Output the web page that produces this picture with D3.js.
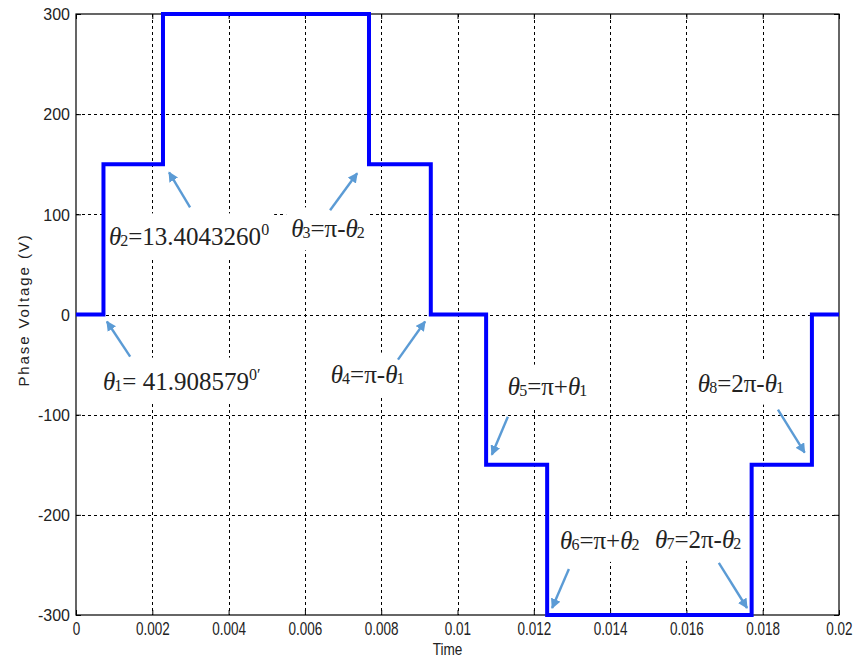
<!DOCTYPE html>
<html>
<head>
<meta charset="utf-8">
<script src="https://cdn.jsdelivr.net/npm/d3@7"></script>
<style>
  body { margin: 0; background: #fff; }
  svg { display: block; }
</style>
</head>
<body>
<div id="chart"></div>
<script>
(function IFEE() {
    'use strict';
    var w = 857;
    var h = 663;

    // switching instants (s) and the level held from each one
    var stepTimes = [0, 0.00072, 0.00228, 0.00768, 0.0093, 0.01075, 0.01235, 0.01771, 0.01929, 0.02];
    var stepLevels = [0, 150, 300, 150, 0, -150, -300, -150, 0, 0];

    var xTicks = [0, 0.002, 0.004, 0.006, 0.008, 0.01, 0.012, 0.014, 0.016, 0.018, 0.02];
    var xTickLabels = ["0", "0.002", "0.004", "0.006", "0.008", "0.01", "0.012", "0.014", "0.016", "0.018", "0.02"];
    var yTicks = [-300, -200, -100, 0, 100, 200, 300];

    // annotation text pieces: i = italic theta, s = subscript, u = superscript
    var noteTexts = [
        [["θ", "i"], ["2", "s"], ["=13.4043260"], ["0", "u"]],
        [["θ", "i"], ["3", "s"], ["=π-"], ["θ", "i"], ["2", "s"]],
        [["θ", "i"], ["1", "s"], ["= 41.908579"], ["0′", "u"]],
        [["θ", "i"], ["4", "s"], ["=π-"], ["θ", "i"], ["1", "s"]],
        [["θ", "i"], ["5", "s"], ["=π+"], ["θ", "i"], ["1", "s"]],
        [["θ", "i"], ["8", "s"], ["=2π-"], ["θ", "i"], ["1", "s"]],
        [["θ", "i"], ["6", "s"], ["=π+"], ["θ", "i"], ["2", "s"]],
        [["θ", "i"], ["7", "s"], ["=2π-"], ["θ", "i"], ["2", "s"]]
    ];
    // where each annotation sits, in time / voltage units
    var noteAt = [[0.000865, 69], [0.00564, 77], [0.00071, -75], [0.00668, -68],
                  [0.01132, -80], [0.0163, -77], [0.01269, -234], [0.01518, -233]];
    var arrowFrom = [[0.00299, 107], [0.00666, 104], [0.00142, -42], [0.00844, -45],
                     [0.01132, -102], [0.0184, -95], [0.01292, -254], [0.01685, -248]];
    var arrowTo = [[0.00244, 142], [0.00737, 141], [0.00081, -7], [0.00915, -7],
                   [0.0109, -140], [0.0191, -138], [0.01248, -293], [0.01759, -293]];

    var m = {left: 76, right: 18, top: 14, bottom: 48};
    var x = d3.scaleLinear().domain([0, 0.02]).range([m.left, w - m.right]);
    var y = d3.scaleLinear().domain([-300, 300]).range([h - m.bottom, m.top]);

    var svg = d3.select("#chart").append("svg")
        .attr("width", w)
        .attr("height", h);

    // grid
    var grid = svg.append("g").attr("stroke", "#000").attr("stroke-width", 1)
        .attr("stroke-dasharray", "3,3");
    grid.selectAll("line.gx").data(xTicks.slice(1, -1)).enter().append("line")
        .attr("x1", function (d) { return Math.round(x(d)) + 0.5; })
        .attr("x2", function (d) { return Math.round(x(d)) + 0.5; })
        .attr("y1", y(300)).attr("y2", y(-300));
    grid.selectAll("line.gy").data(yTicks.slice(1, -1)).enter().append("line")
        .attr("y1", function (d) { return Math.round(y(d)) + 0.5; })
        .attr("y2", function (d) { return Math.round(y(d)) + 0.5; })
        .attr("x1", x(0)).attr("x2", x(0.02));

    // white boxes behind the annotations go under the waveform
    var boxLayer = svg.append("g");

    // axes, ticks pointing inwards
    function styleAxis(g) {
        g.select(".domain").remove();
        g.selectAll(".tick line").attr("stroke", "#000");
        g.selectAll(".tick text").attr("fill", "#222")
            .style("font-family", "'Liberation Sans', Arial, sans-serif");
    }
    svg.append("g").attr("transform", "translate(0," + y(-300) + ")")
        .call(d3.axisBottom(x).tickValues(xTicks).tickSize(-5).tickPadding(7)
            .tickFormat(function (d, i) { return xTickLabels[i]; }))
        .call(styleAxis)
        .selectAll(".tick text").style("font-size", "18px")
        .attr("transform", "scale(0.75,1)");
    svg.append("g").attr("transform", "translate(0," + y(300) + ")")
        .call(d3.axisTop(x).tickValues(xTicks).tickSize(-5).tickFormat(""))
        .call(styleAxis);
    svg.append("g").attr("transform", "translate(" + x(0) + ",0)")
        .call(d3.axisLeft(y).tickValues(yTicks).tickSize(-5).tickPadding(6)
            .tickFormat(String))
        .call(styleAxis)
        .selectAll(".tick text").style("font-size", "16px").attr("dy", "0.36em");
    svg.append("g").attr("transform", "translate(" + x(0.02) + ",0)")
        .call(d3.axisRight(y).tickValues(yTicks).tickSize(-5).tickFormat(""))
        .call(styleAxis);

    svg.append("rect")
        .attr("x", x(0)).attr("y", y(300))
        .attr("width", x(0.02) - x(0)).attr("height", y(-300) - y(300))
        .attr("fill", "none").attr("stroke", "#000").attr("stroke-width", 1.2);

    // axis titles
    svg.append("text")
        .attr("transform", "translate(" + (x(0.01) - 10) + ",655) scale(0.8,1)")
        .attr("text-anchor", "middle")
        .style("font-family", "'Liberation Sans', Arial, sans-serif")
        .style("font-size", "17px").attr("fill", "#222")
        .text("Time");
    svg.append("text")
        .attr("transform", "translate(29,310) rotate(-90)")
        .attr("text-anchor", "middle")
        .style("font-family", "'Liberation Sans', Arial, sans-serif")
        .style("font-size", "15px").style("letter-spacing", "1.9px").attr("fill", "#222")
        .text("Phase Voltage (V)");

    // waveform
    var pts = stepTimes.map(function (t, i) { return [t, stepLevels[i]]; });
    svg.append("path")
        .datum(pts)
        .attr("d", d3.line()
            .x(function (d) { return x(d[0]); })
            .y(function (d) { return y(d[1]); })
            .curve(d3.curveStepAfter))
        .attr("fill", "none")
        .attr("stroke", "#0000ff")
        .attr("stroke-width", 4)
        .attr("stroke-linejoin", "miter");

    // annotations
    var defs = svg.append("defs");
    defs.append("marker").attr("id", "head")
        .attr("viewBox", "0 0 10 10").attr("refX", 9).attr("refY", 5)
        .attr("markerWidth", 4.2).attr("markerHeight", 4.2)
        .attr("markerUnits", "strokeWidth").attr("orient", "auto")
        .append("path").attr("d", "M0,0 L10,5 L0,10 Z").attr("fill", "#5b9bd5");

    var notes = svg.append("g");
    noteTexts.forEach(function (parts, i) {
        var txt = notes.append("text")
            .attr("x", x(noteAt[i][0])).attr("y", y(noteAt[i][1]))
            .style("font-family", "'Liberation Serif', 'Times New Roman', serif")
            .style("font-size", "25px").attr("fill", "#222");
        var shift = 0;
        parts.forEach(function (p) {
            var ts = txt.append("tspan").text(p[0]);
            var dy = -shift;
            shift = 0;
            if (p[1] === "i") {
                ts.style("font-style", "italic");
            } else if (p[1] === "s") {
                ts.style("font-size", "16px").attr("dx", -1);
                shift = 1;
            } else if (p[1] === "u") {
                ts.style("font-size", "16px");
                shift = -10;
            }
            ts.attr("dy", dy + shift);
        });
        var bb = txt.node().getBBox();
        boxLayer.append("rect").attr("fill", "#fff")
            .attr("x", bb.x - 5).attr("y", bb.y - 8)
            .attr("width", bb.width + 10).attr("height", bb.height + 16);

        svg.append("line")
            .attr("x1", x(arrowFrom[i][0])).attr("y1", y(arrowFrom[i][1]))
            .attr("x2", x(arrowTo[i][0])).attr("y2", y(arrowTo[i][1]))
            .attr("stroke", "#5b9bd5").attr("stroke-width", 2.4)
            .attr("marker-end", "url(#head)");
    });
}());
</script>
</body>
</html>
